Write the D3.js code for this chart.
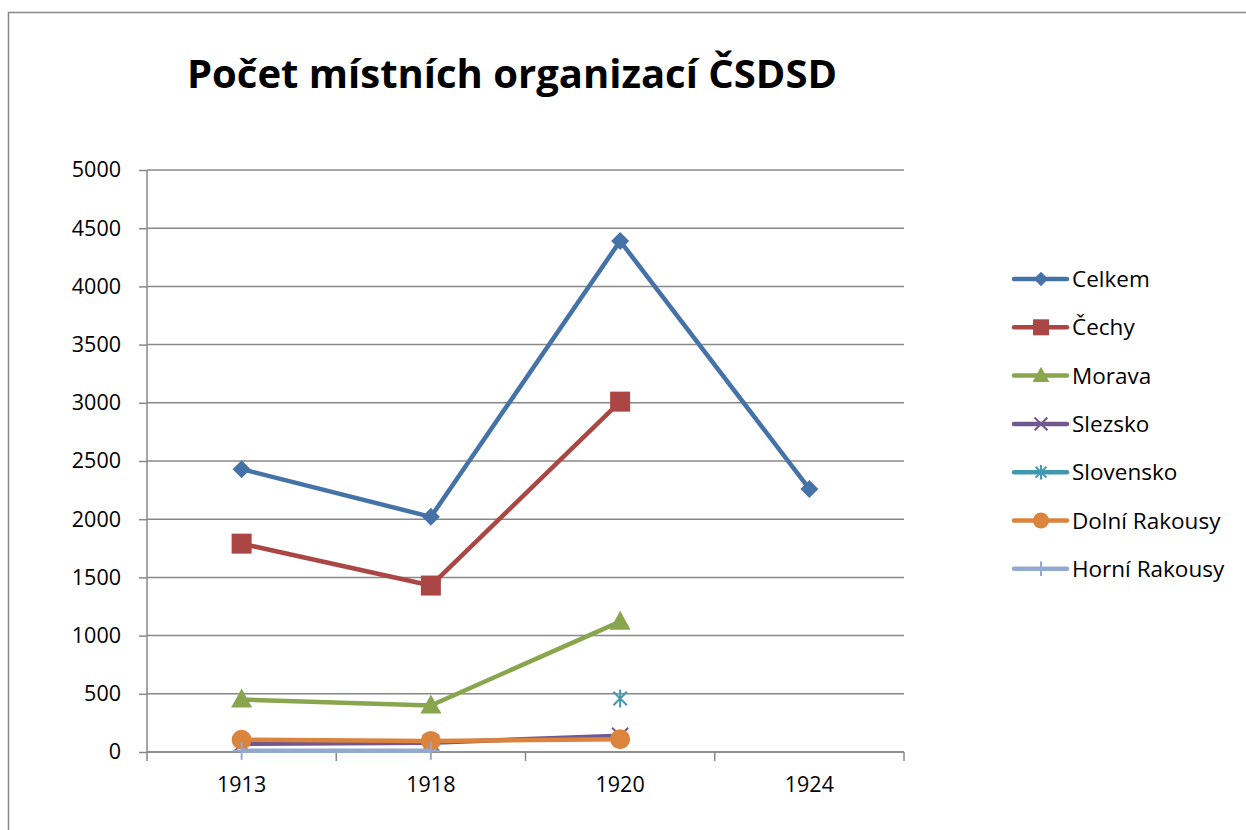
<!DOCTYPE html>
<html><head><meta charset="utf-8">
<script src="https://cdn.jsdelivr.net/npm/d3@7"></script>
<style>body{margin:0;background:#fff}svg{display:block}text{font-family:"Open Sans",Calibri,sans-serif}</style>
</head><body>
<svg id="c" width="1246" height="830"></svg>
<script>
const categories = ["1913","1918","1920","1924"];
const seriesNames = ["Celkem","Čechy","Morava","Slezsko","Slovensko","Dolní Rakousy","Horní Rakousy"];
const celkem = [2430, 2020, 4390, 2260];
const cechy = [1790, 1430, 3010, null];
const morava = [450, 400, 1120, null];
const slezsko = [70, 80, 140, null];
const slovensko = [null, null, 460, null];
const dolniRakousy = [105, 95, 110, null];
const horniRakousy = [10, 10, null, null];
const yTicks = [0,500,1000,1500,2000,2500,3000,3500,4000,4500,5000];
const colors = ["#4572A7","#AA4643","#89A54E","#71588F","#4198AF","#DB843D","#93A9CF"];
const markers = ["diamond","square","triangle","x","star","circle","plus"];
const values = [celkem, cechy, morava, slezsko, slovensko, dolniRakousy, horniRakousy];

const svg = d3.select("#c");
svg.append("rect").attr("x",8.5).attr("y",12.5).attr("width",1250).attr("height",830)
  .attr("fill","#fff").attr("stroke","#888").attr("stroke-width",1.5);

svg.append("text").attr("x",512).attr("y",88).attr("text-anchor","middle")
  .attr("font-size",40).attr("font-weight","bold").text("Počet místních organizací ČSDSD");

const x = d3.scaleBand().domain(categories).range([147,904]);
const y = d3.scaleLinear().domain([0,5000]).range([752,170]);

// gridlines
svg.append("g").selectAll("line").data(yTicks).join("line")
  .attr("x1",147).attr("x2",904).attr("y1",d=>y(d)).attr("y2",d=>y(d))
  .attr("stroke","#888").attr("stroke-width",1.5);

const ya = svg.append("g").attr("transform","translate(147,0)")
  .call(d3.axisLeft(y).tickValues(yTicks).tickSize(8).tickPadding(18).tickFormat(d3.format("d")));
ya.attr("font-size",null).attr("font-family",null);
ya.select(".domain").attr("stroke","#888").attr("stroke-width",1.5).attr("d","M0,170V752");
ya.selectAll(".tick line").attr("stroke","#888").attr("stroke-width",1.5);
ya.selectAll("text").style("font-size","21.5px").attr("fill","#000");

const xa = svg.append("g").attr("transform","translate(0,752)")
  .call(d3.axisBottom(x).tickSize(0).tickPadding(25));
xa.attr("font-size",null).attr("font-family",null);
xa.select(".domain").attr("stroke","#888").attr("stroke-width",1.5).attr("d","M147,0H904");
xa.selectAll("text").style("font-size","21.5px").attr("fill","#000");
// boundary ticks
const bounds = categories.map(c=>x(c)).concat([x.range()[1]]);
svg.append("g").selectAll("line").data(bounds).join("line")
  .attr("x1",d=>d).attr("x2",d=>d).attr("y1",752).attr("y2",761)
  .attr("stroke","#888").attr("stroke-width",1.5);

function drawMarker(g, type, cx, cy, color, s){
  s = s||1;
  if(type==="diamond"){
    g.append("path").attr("d",`M${cx},${cy-9*s}L${cx+9*s},${cy}L${cx},${cy+9*s}L${cx-9*s},${cy}Z`).attr("fill",color);
  } else if(type==="square"){
    g.append("rect").attr("x",cx-10*s).attr("y",cy-10*s).attr("width",20*s).attr("height",20*s).attr("fill",color);
  } else if(type==="triangle"){
    g.append("path").attr("d",`M${cx},${cy-11*s}L${cx+10.5*s},${cy+8*s}L${cx-10.5*s},${cy+8*s}Z`).attr("fill",color);
  } else if(type==="circle"){
    g.append("circle").attr("cx",cx).attr("cy",cy).attr("r",10*s).attr("fill",color);
  } else if(type==="x"){
    const r=8*s;
    g.append("path").attr("d",`M${cx-r},${cy-r}L${cx+r},${cy+r}M${cx+r},${cy-r}L${cx-r},${cy+r}`).attr("stroke",color).attr("stroke-width",2).attr("fill","none");
  } else if(type==="star"){
    const r=9*s;
    g.append("path").attr("d",`M${cx-r*0.75},${cy-r*0.75}L${cx+r*0.75},${cy+r*0.75}M${cx+r*0.75},${cy-r*0.75}L${cx-r*0.75},${cy+r*0.75}M${cx},${cy-r}L${cx},${cy+r}`).attr("stroke",color).attr("stroke-width",2).attr("fill","none");
  } else if(type==="plus"){
    const r=9*s;
    g.append("path").attr("d",`M${cx},${cy-r}L${cx},${cy+r}M${cx-r},${cy}L${cx+r},${cy}`).attr("stroke",color).attr("stroke-width",2).attr("fill","none");
  }
}

const cx = c => x(c) + x.bandwidth()/2;
const line = d3.line().defined(d=>d.v!=null).x(d=>cx(d.c)).y(d=>y(d.v));
const plot = svg.append("g");
values.forEach((vals,i)=>{
  const pts = categories.map((c,j)=>({c, v: vals[j]}));
  const g = plot.append("g");
  g.append("path").datum(pts).attr("d",line).attr("fill","none")
    .attr("stroke",colors[i]).attr("stroke-width",4.5).attr("stroke-linejoin","round");
  pts.filter(p=>p.v!=null).forEach(p=>drawMarker(g, markers[i], cx(p.c), y(p.v), colors[i]));
});

// legend
const lg = svg.append("g");
seriesNames.forEach((n,i)=>{
  const yy = 279 + i*48.3;
  lg.append("line").attr("x1",1014).attr("x2",1067).attr("y1",yy).attr("y2",yy)
    .attr("stroke",colors[i]).attr("stroke-width",4.5).attr("stroke-linecap","round");
  drawMarker(lg, markers[i], 1041, yy, colors[i], 0.8);
  lg.append("text").attr("x",1072).attr("y",yy+8).attr("font-size",22.5).text(n);
});
</script>
</body></html>
